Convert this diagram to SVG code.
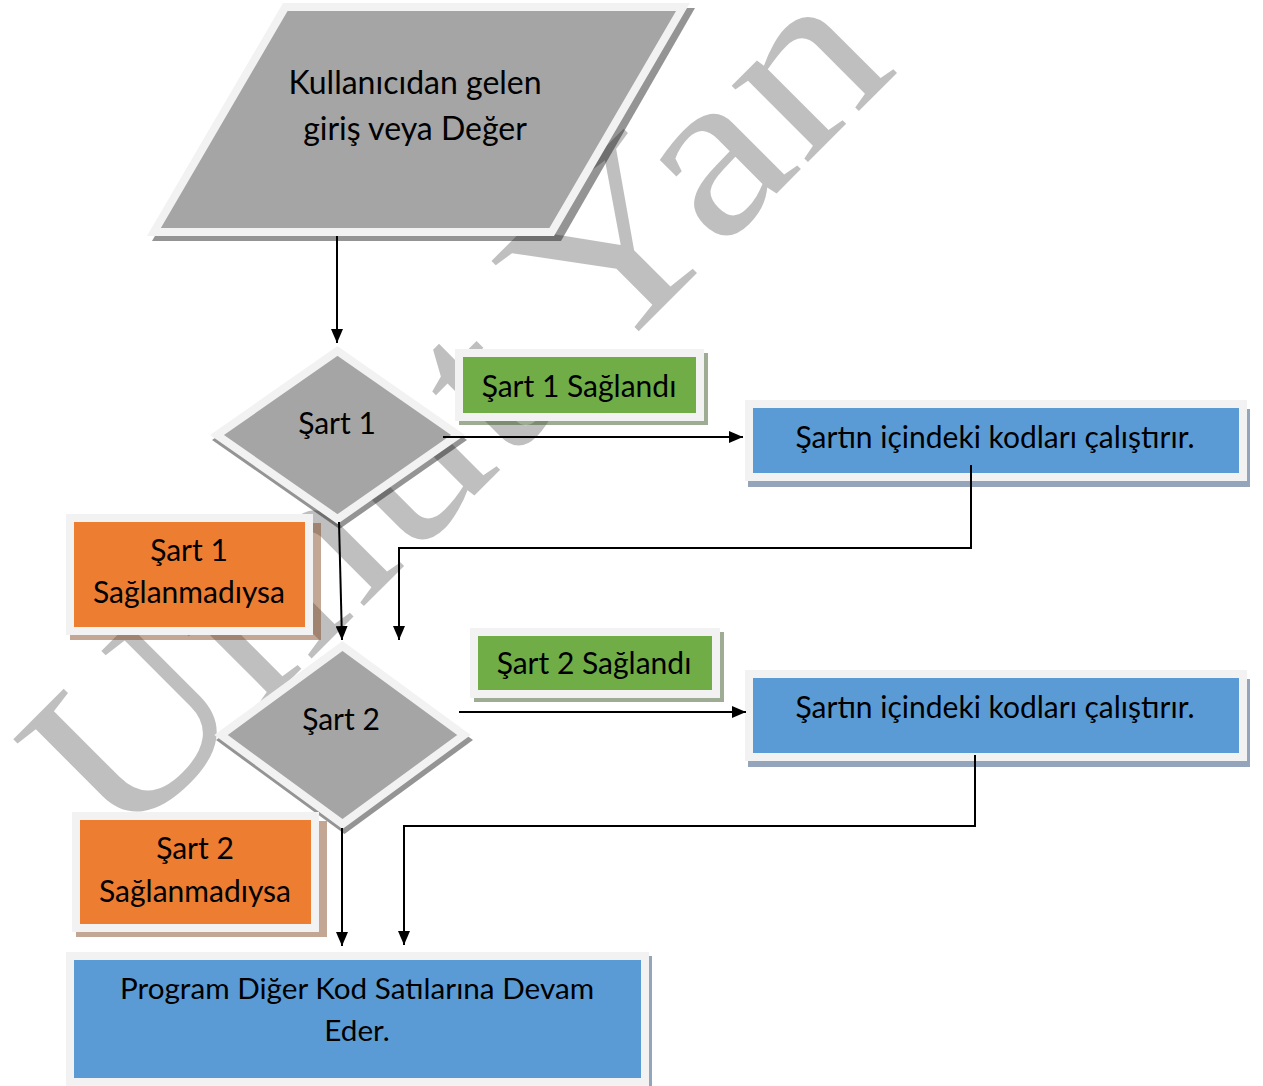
<svg xmlns="http://www.w3.org/2000/svg" width="1263" height="1086" viewBox="0 0 1263 1086">
  <defs>
    <marker id="arrow" viewBox="0 0 14 12" markerWidth="14" markerHeight="12" markerUnits="userSpaceOnUse" refX="14" refY="6" orient="auto">
      <path d="M0,0 L14,6 L0,12 z" fill="#000"/>
    </marker>
  </defs>
  <style>
    .lbl { font-family: Lato, "Liberation Sans", sans-serif; font-size: 30px; fill: #000; text-anchor: middle; }
    .big { font-size: 32px; }
    .wide { font-size: 29.7px; }
    .frame { stroke: #f2f2f2; stroke-width: 8; stroke-linejoin: miter; }
    .gray { fill: #a5a5a5; }
    .green { fill: #70ad47; }
    .orange { fill: #ed7d31; }
    .blue { fill: #5b9bd5; }
    .sh-gray { fill: #000; fill-opacity: 0.42; }
    .sh-green { fill: #3c5a28; fill-opacity: 0.5; }
    .sh-orange { fill: #7a3a10; fill-opacity: 0.45; }
    .sh-blue { fill: #2a4a78; fill-opacity: 0.5; }
    .conn { fill: none; stroke: #000; stroke-width: 2; }
    .mark { font-family: "Liberation Serif", serif; font-size: 235px; fill: #000; fill-opacity: 0.25; }
  </style>

  <!-- background watermark, behind every shape -->
  <text class="mark" transform="translate(118,852) rotate(-45) scale(1.16,1)">Umut Yan</text>

  <!-- input parallelogram -->
  <g id="input">
    <polygon class="sh-gray" points="288,8 695,8 561,241 152,241"/>
    <polygon class="gray frame" points="285.3,7 683,7 551.7,232 153.9,232"/>
    <text class="lbl big" x="415" y="94">Kullanıcıdan gelen</text>
    <text class="lbl big" x="415" y="140">giriş veya Değer</text>
  </g>

  <!-- decision 1 -->
  <g id="cond1">
    <polygon class="sh-gray" points="339.5,351 467,440 339.5,529 212,440"/>
    <polygon class="gray frame" points="337.5,351 458,435 337.5,519 217,435"/>
    <text class="lbl" x="337" y="434">Şart 1</text>
  </g>

  <!-- decision 2 -->
  <g id="cond2">
    <polygon class="sh-gray" points="344.5,646 473,740 344.5,834 216,740"/>
    <polygon class="gray frame" points="342.5,646 464,735 342.5,824 221,735"/>
    <text class="lbl" x="341" y="730">Şart 2</text>
  </g>

  <!-- branch labels -->
  <g id="yes1">
    <rect class="sh-green" x="459" y="353" width="249" height="72"/>
    <rect class="green frame" x="459" y="353" width="241" height="64"/>
    <text class="lbl" x="579" y="397">Şart 1 Sağlandı</text>
  </g>

  <g id="yes2">
    <rect class="sh-green" x="474" y="632" width="250" height="70"/>
    <rect class="green frame" x="474" y="632" width="242" height="62"/>
    <text class="lbl" x="594" y="674">Şart 2 Sağlandı</text>
  </g>

  <g id="no1">
    <rect class="sh-orange" x="70" y="523" width="251" height="117"/>
    <rect class="orange frame" x="70" y="518" width="239" height="113"/>
    <text class="lbl" x="189" y="561">Şart 1</text>
    <text class="lbl" x="189" y="603">Sağlanmadıysa</text>
  </g>

  <g id="no2">
    <rect class="sh-orange" x="76" y="821" width="251" height="116"/>
    <rect class="orange frame" x="76" y="816" width="239" height="112"/>
    <text class="lbl" x="195" y="859">Şart 2</text>
    <text class="lbl" x="195" y="902">Sağlanmadıysa</text>
  </g>

  <!-- actions -->
  <g id="run1">
    <rect class="sh-blue" x="748" y="409" width="502" height="78"/>
    <rect class="blue frame" x="749" y="404" width="494" height="73"/>
    <text class="lbl" x="995" y="448">Şartın içindeki kodları çalıştırır.</text>
  </g>

  <g id="run2">
    <rect class="sh-blue" x="748" y="679" width="502" height="88"/>
    <rect class="blue frame" x="749" y="674" width="494" height="83"/>
    <text class="lbl" x="995" y="718">Şartın içindeki kodları çalıştırır.</text>
  </g>

  <g id="continue">
    <rect class="sh-blue" x="70" y="956" width="582" height="140"/>
    <rect class="blue frame" x="70" y="956" width="575" height="126"/>
    <text class="lbl wide" x="357" y="999">Program Diğer Kod Satılarına Devam</text>
    <text class="lbl wide" x="357" y="1041">Eder.</text>
  </g>

  <!-- connectors -->
  <g id="connectors">
    <path class="conn" d="M337,236 V343" marker-end="url(#arrow)"/>
    <path class="conn" d="M443,437 H743" marker-end="url(#arrow)"/>
    <path class="conn" d="M971,465 V548 H399 V640" marker-end="url(#arrow)"/>
    <path class="conn" d="M339,522 L342,640" marker-end="url(#arrow)"/>
    <path class="conn" d="M459,712 H746" marker-end="url(#arrow)"/>
    <path class="conn" d="M975,755 V826 H404 V945" marker-end="url(#arrow)"/>
    <path class="conn" d="M342,828 V946" marker-end="url(#arrow)"/>
  </g>
</svg>
